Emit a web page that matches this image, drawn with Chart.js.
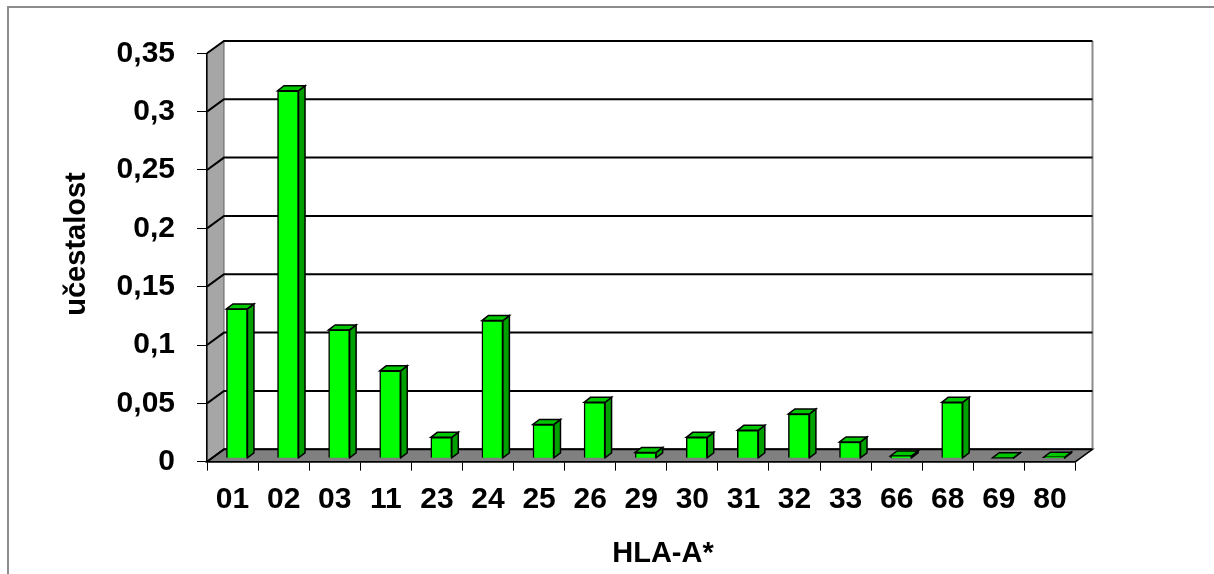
<!DOCTYPE html>
<html>
<head>
<meta charset="utf-8">
<script src="https://cdn.jsdelivr.net/npm/chart.js@4.4.1/dist/chart.umd.min.js"></script>
<style>
  html, body { margin: 0; padding: 0; background: #fff; }
  canvas { display: block; }
</style>
</head>
<body>
<canvas id="chart" width="1214" height="574"></canvas>
<script>
// ── Data ────────────────────────────────────────────────────────────────────
const categories = ["01", "02", "03", "11", "23", "24", "25", "26", "29",
                    "30", "31", "32", "33", "66", "68", "69", "80"];
const frequency  = [0.128, 0.315, 0.11, 0.075, 0.018, 0.118, 0.029, 0.048, 0.005,
                    0.018, 0.024, 0.038, 0.014, 0.002, 0.048, 0.0005, 0.001];
const yTicks = [0, 0.05, 0.1, 0.15, 0.2, 0.25, 0.3, 0.35];
const xTitle = "HLA-A*";
const yTitle = "učestalost";

// ── 3D look (Excel style) ───────────────────────────────────────────────────
const FONT = "'Liberation Sans', Arial, sans-serif";
const WALL = { dx: 17, dy: -12.4 };     // depth of back wall
const BAR_SHIFT = { dx: 4.4, dy: -3.4 }; // bars sit a bit behind the front plane
const BAR_DEPTH = { dx: 6.5, dy: -5 };

function poly(ctx, pts, fill, stroke, lw) {
  ctx.beginPath();
  pts.forEach(([x, y], i) => i ? ctx.lineTo(x, y) : ctx.moveTo(x, y));
  ctx.closePath();
  if (fill) { ctx.fillStyle = fill; ctx.fill(); }
  if (stroke) { ctx.strokeStyle = stroke; ctx.lineWidth = lw; ctx.stroke(); }
}

const threeD = {
  id: "threeD",
  beforeDraw(chart) {
    const { ctx, chartArea: a, scales: { y } } = chart;
    const L = a.left, R = a.right;
    const T = y.getPixelForValue(yTicks[yTicks.length - 1]);
    const B = y.getPixelForValue(0);
    ctx.save();
    ctx.fillStyle = "#fff";
    ctx.fillRect(0, 0, chart.width, chart.height);

    // outer frame (top + left only)
    ctx.strokeStyle = "#8c8c8c";
    ctx.lineWidth = 2;
    ctx.beginPath();
    ctx.moveTo(8, chart.height); ctx.lineTo(8, 7); ctx.lineTo(chart.width, 7);
    ctx.stroke();

    // left wall
    poly(ctx, [[L, B], [L, T], [L + WALL.dx, T + WALL.dy], [L + WALL.dx, B + WALL.dy]],
         "#a6a6a6", "#606060", 1);
    // floor
    poly(ctx, [[L, B], [L + WALL.dx, B + WALL.dy], [R + WALL.dx, B + WALL.dy], [R, B]],
         "#808080", "#000", 1.5);
    // back wall right edge
    ctx.strokeStyle = "#8c8c8c";
    ctx.lineWidth = 2;
    ctx.beginPath();
    ctx.moveTo(R + WALL.dx, T + WALL.dy); ctx.lineTo(R + WALL.dx, B + WALL.dy);
    ctx.stroke();

    // gridlines: diagonal on left wall + horizontal on back wall
    ctx.strokeStyle = "#000";
    ctx.lineWidth = 2;
    yTicks.forEach(v => {
      const py = y.getPixelForValue(v);
      ctx.beginPath();
      ctx.moveTo(L, py);
      ctx.lineTo(L + WALL.dx, py + WALL.dy);
      ctx.lineTo(R + WALL.dx, py + WALL.dy);
      ctx.stroke();
    });
    ctx.restore();
  },
  beforeDatasetsDraw(chart) {
    const { ctx } = chart;
    ctx.save();
    ctx.translate(BAR_SHIFT.dx, BAR_SHIFT.dy);
    chart.getDatasetMeta(0).data.forEach(el => {
      const xl = el.x - el.width / 2, xr = el.x + el.width / 2;
      const top = el.y, base = el.base;
      const { dx, dy } = BAR_DEPTH;
      poly(ctx, [[xr, top], [xr + dx, top + dy], [xr + dx, base + dy], [xr, base]],
           "#00a000", "#000", 1.5);
      poly(ctx, [[xl, top], [xl + dx, top + dy], [xr + dx, top + dy], [xr, top]],
           "#00c800", "#000", 1.5);
    });
    // left translated so the front faces drawn by Chart.js line up
  },
  afterDatasetsDraw(chart) {
    chart.ctx.restore();
  },
  afterDraw(chart) {
    const { ctx } = chart;
    ctx.save();
    ctx.fillStyle = "#000";
    ctx.font = `bold 29px ${FONT}`;
    ctx.textAlign = "center";
    ctx.textBaseline = "middle";
    ctx.fillText(xTitle, 663, 554);
    ctx.translate(77, 244);
    ctx.rotate(-Math.PI / 2);
    ctx.fillText(yTitle, 0, 0);
    ctx.restore();
  }
};

// ── Chart ───────────────────────────────────────────────────────────────────
new Chart(document.getElementById("chart"), {
  type: "bar",
  data: {
    labels: categories,
    datasets: [{
      label: "učestalost",
      data: frequency,
      backgroundColor: "#00ff00",
      borderColor: "#000",
      borderWidth: 1.5,
      barThickness: 21,
      clip: false
    }]
  },
  options: {
    responsive: false,
    animation: false,
    devicePixelRatio: 1,
    layout: { padding: { left: 0, top: 53.3, right: 138.5, bottom: 0 } },
    plugins: {
      legend: { display: false },
      tooltip: { enabled: false }
    },
    scales: {
      x: {
        afterFit(scale) { scale.height = 574 - 461.7; },
        grid: {
          offset: true,
          drawOnChartArea: false,
          tickLength: 9,
          tickColor: "#000",
          tickWidth: 1
        },
        border: { display: true, color: "#000", width: 1.5 },
        ticks: {
          color: "#000",
          padding: 11,
          maxRotation: 0,
          autoSkip: false,
          font: { family: FONT, size: 30, weight: "bold" }
        }
      },
      y: {
        min: 0,
        max: 0.35,
        afterFit(scale) { scale.width = 207; },
        afterBuildTicks(scale) { scale.ticks = yTicks.map(v => ({ value: v })); },
        grid: {
          drawOnChartArea: false,
          tickLength: 10,
          tickColor: "#000",
          tickWidth: 1
        },
        border: { display: true, color: "#000", width: 1.5 },
        ticks: {
          color: "#000",
          padding: 22,
          font: { family: FONT, size: 30, weight: "bold" },
          callback: v => String(+Number(v).toFixed(2)).replace(".", ",")
        }
      }
    }
  },
  plugins: [threeD]
});
</script>
</body>
</html>
